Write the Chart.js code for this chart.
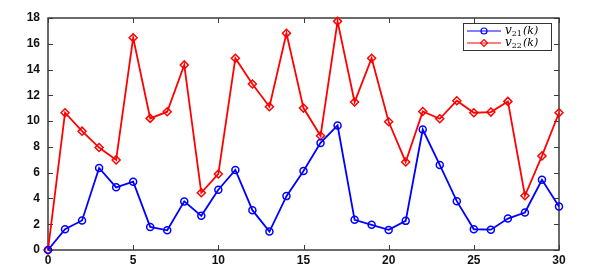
<!DOCTYPE html>
<html>
<head>
<meta charset="utf-8">
<script src="https://cdn.jsdelivr.net/npm/chart.js@4.4.0/dist/chart.umd.min.js"></script>
<style>
  html, body { margin: 0; padding: 0; background: #fff; }
  #wrap { width: 614px; height: 272px; }
</style>
</head>
<body>
<div id="wrap"><canvas id="grafica" width="614" height="272"></canvas></div>
<script>
// datos
const k = [0, 1, 2, 3, 4, 5, 6, 7, 8, 9, 10, 11, 12, 13, 14, 15, 16, 17, 18, 19, 20, 21, 22, 23, 24, 25, 26, 27, 28, 29, 30];
const v21 = [0, 1.61, 2.29, 6.36, 4.86, 5.30, 1.79, 1.53, 3.77, 2.65, 4.68, 6.21, 3.09, 1.43, 4.18, 6.13, 8.31,
             9.66, 2.34, 1.95, 1.56, 2.26, 9.35, 6.60, 3.79, 1.61, 1.58, 2.44, 2.91, 5.45, 3.38];
const v22 = [0, 10.65, 9.22, 7.95, 6.99, 16.47, 10.21, 10.73, 14.36, 4.44, 5.90, 14.88, 12.88, 11.12, 16.81, 11.01, 8.86,
             17.74, 11.48, 14.88, 9.95, 6.83, 10.75, 10.18, 11.58, 10.65, 10.70, 11.53, 4.21, 7.30, 10.65];
const xTicks = [0, 5, 10, 15, 20, 25, 30];
const yTicks = [0, 2, 4, 6, 8, 10, 12, 14, 16, 18];
const legendNames = [['v', '21', '(k)'], ['v', '22', '(k)']];

const toPts = arr => arr.map((y, i) => ({ x: k[i], y: y }));
const tickFont = { family: 'Liberation Sans', size: 12, weight: 'bold' };

// marco, marcas hacia adentro y leyenda
const marco = {
  id: 'marco',
  beforeDatasetsDraw(chart) {
    const c = chart.ctx, a = chart.chartArea;
    const xs = chart.scales.x, ys = chart.scales.y;
    const L = Math.round(a.left), R = Math.round(a.right), T = Math.round(a.top), B = Math.round(a.bottom);
    c.save();
    c.strokeStyle = '#3a3a3a';
    c.lineWidth = 1.5;
    c.strokeRect(L, T, R - L, B - T);
    c.lineWidth = 1;
    c.beginPath();
    xTicks.forEach(t => {
      const px = Math.round(xs.getPixelForValue(t)) + 0.5;
      c.moveTo(px, B); c.lineTo(px, B - 5);
      c.moveTo(px, T); c.lineTo(px, T + 5);
    });
    yTicks.forEach(t => {
      const py = Math.round(ys.getPixelForValue(t)) + 0.5;
      c.moveTo(L, py); c.lineTo(L + 5, py);
      c.moveTo(R, py); c.lineTo(R - 5, py);
    });
    c.stroke();
    c.restore();
  },
  afterDraw(chart) {
    const c = chart.ctx;
    c.save();
    // leyenda
    const bx = 463, by = 23, bw = 88, bh = 27;
    c.fillStyle = '#fff';
    c.fillRect(bx, by, bw, bh);
    c.strokeStyle = '#333';
    c.lineWidth = 1;
    c.strokeRect(bx + 0.5, by + 0.5, bw, bh);
    chart.data.datasets.forEach((ds, i) => {
      const y = by + 8 + i * 12;
      c.strokeStyle = ds.borderColor;
      c.lineWidth = 1.2;
      c.beginPath();
      c.moveTo(bx + 4, y); c.lineTo(bx + 38, y);
      c.stroke();
      c.beginPath();
      if (ds.pointStyle === 'rectRot') {
        c.moveTo(bx + 21, y - 3.5); c.lineTo(bx + 24.5, y); c.lineTo(bx + 21, y + 3.5); c.lineTo(bx + 17.5, y); c.closePath();
      } else {
        c.arc(bx + 21, y, 3, 0, Math.PI * 2);
      }
      c.stroke();
      const n = legendNames[i];
      c.fillStyle = '#000';
      c.textBaseline = 'middle';
      let tx = bx + 42;
      c.font = 'italic 12px "DejaVu Serif"';
      c.fillText(n[0], tx, y);
      tx += c.measureText(n[0]).width;
      c.font = '8px "DejaVu Serif"';
      c.fillText(n[1], tx, y + 3);
      tx += c.measureText(n[1]).width + 1;
      c.font = 'italic 11px "DejaVu Serif"';
      c.fillText(n[2], tx, y);
    });
    c.restore();
  }
};

new Chart(document.getElementById('grafica').getContext('2d'), {
  type: 'line',
  data: {
    datasets: [
      {
        label: 'v21(k)', data: toPts(v21),
        borderColor: '#0000ff', backgroundColor: 'rgba(0,0,0,0)',
        borderWidth: 1.8, pointStyle: 'circle', pointRadius: 3.5,
        pointBorderWidth: 1.5, pointBorderColor: '#0000ff', tension: 0, clip: false
      },
      {
        label: 'v22(k)', data: toPts(v22),
        borderColor: '#ff0000', backgroundColor: 'rgba(0,0,0,0)',
        borderWidth: 1.8, pointStyle: 'rectRot', pointRadius: 4,
        pointBorderWidth: 1.5, pointBorderColor: '#ff0000', tension: 0, clip: false
      }
    ]
  },
  options: {
    responsive: false,
    animation: false,
    layout: { padding: { left: 0, right: 55, top: 18, bottom: 0 } },
    plugins: { legend: { display: false }, tooltip: { enabled: false } },
    scales: {
      x: {
        type: 'linear', min: 0, max: 30,
        afterBuildTicks: s => { s.ticks = xTicks.map(v => ({ value: v })); },
        afterFit: s => { s.height = 22; },
        grid: { display: false, drawTicks: false },
        border: { display: false },
        ticks: { color: '#111', padding: 3, font: tickFont }
      },
      y: {
        type: 'linear', min: 0, max: 18,
        afterBuildTicks: s => { s.ticks = yTicks.map(v => ({ value: v })); },
        afterFit: s => { s.width = 48; },
        grid: { display: false, drawTicks: false },
        border: { display: false },
        ticks: { color: '#111', padding: 8, font: tickFont }
      }
    }
  },
  plugins: [marco]
});
</script>
</body>
</html>
